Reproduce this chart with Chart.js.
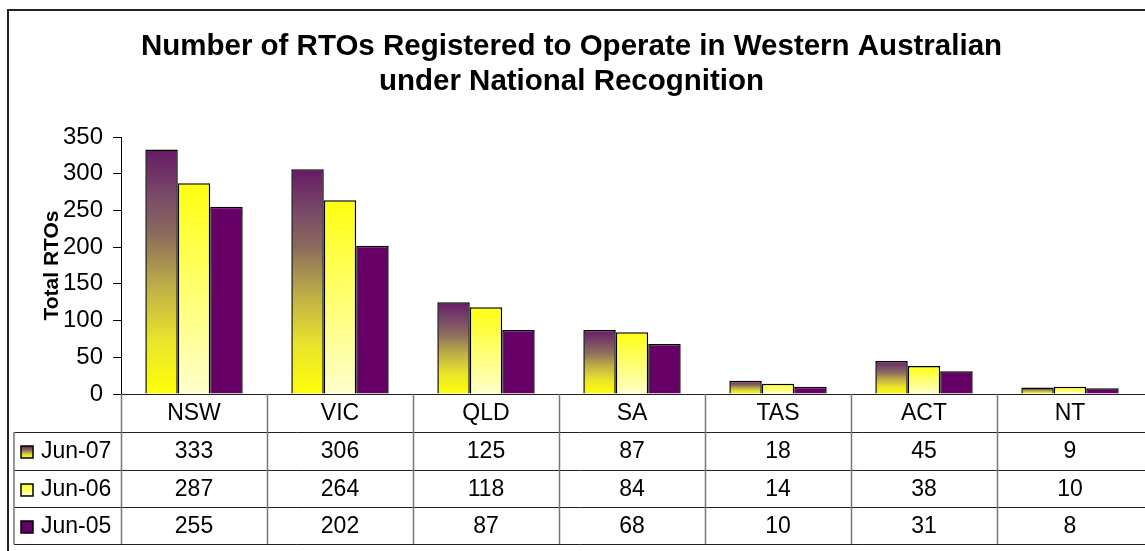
<!DOCTYPE html>
<html>
<head>
<meta charset="utf-8">
<script src="https://cdn.jsdelivr.net/npm/chart.js@4"></script>
<style>
  body { margin: 0; background: #fff; }
  canvas { display: block; }
</style>
</head>
<body>
<canvas id="myChart" width="1145" height="551"></canvas>
<script>
// data
var categories = ['NSW', 'VIC', 'QLD', 'SA', 'TAS', 'ACT', 'NT'];
var seriesNames = ['Jun-07', 'Jun-06', 'Jun-05'];
var jun07 = [333, 306, 125, 87, 18, 45, 9];
var jun06 = [287, 264, 118, 84, 14, 38, 10];
var jun05 = [255, 202, 87, 68, 10, 31, 8];
var yMin = 0, yMax = 350, yStep = 50;

var FONT = "'Liberation Sans', Arial, sans-serif";

// colour stops, top of bar first
var seriesFills = [
    [[0, '#661a66'], [0.18, '#784868'], [0.35, '#8c6c5c'], [0.55, '#bcac48'], [0.78, '#eae42c'], [1, '#ffff08']],
    [[0, '#ffff10'], [1, '#ffffcc']],
    [[0, '#660066'], [1, '#660066']]
];
var seriesData = [jun07, jun06, jun05];

function fillStops(g, stops) {
    stops.forEach(function (st) { g.addColorStop(st[0], st[1]); });
    return g;
}

// vertical gradient per bar, from the bar top down to zero
function barGradient(stops) {
    return function (context) {
        var chart = context.chart;
        var ys = chart.scales.y;
        if (!ys || context.parsed === undefined || context.parsed.y === undefined) return stops[0][1];
        var y0 = ys.getPixelForValue(context.parsed.y);
        var y1 = ys.getPixelForValue(0);
        if (!isFinite(y0) || !isFinite(y1) || y0 === y1) return stops[0][1];
        return fillStops(chart.ctx.createLinearGradient(0, y0, 0, y1), stops);
    };
}

// data table under the plot, laid out from the x scale
var dataTable = {
    id: 'dataTable',
    afterDraw: function (chart) {
        var ctx = chart.ctx;
        var xs = chart.scales.x;
        var area = chart.chartArea;
        var n = categories.length;
        var catW = (xs.right - xs.left) / n;
        var rows = [area.bottom, 432, 470, 507, 544];
        var legendLeft = 14;

        ctx.save();
        // horizontal lines
        ctx.strokeStyle = '#222';
        ctx.lineWidth = 1;
        ctx.beginPath();
        ctx.moveTo(area.left, rows[0] + 0.5);
        ctx.lineTo(chart.width, rows[0] + 0.5);
        for (var r = 1; r < rows.length; r++) {
            ctx.moveTo(legendLeft, rows[r] + 0.5);
            ctx.lineTo(chart.width, rows[r] + 0.5);
        }
        ctx.stroke();

        // vertical lines
        ctx.strokeStyle = '#777';
        ctx.lineWidth = 1.5;
        ctx.beginPath();
        ctx.moveTo(legendLeft, rows[1]);
        ctx.lineTo(legendLeft, rows[4]);
        for (var i = 0; i < n; i++) {
            var xl = Math.round(xs.getPixelForValue(i) - catW / 2) + 0.5;
            ctx.moveTo(xl, rows[0]);
            ctx.lineTo(xl, rows[4]);
        }
        ctx.stroke();

        // header and values
        ctx.fillStyle = '#000';
        ctx.font = '23px ' + FONT;
        ctx.textAlign = 'center';
        ctx.textBaseline = 'middle';
        for (var i = 0; i < n; i++) {
            var cx = xs.getPixelForValue(i);
            ctx.fillText(categories[i], cx, (rows[0] + rows[1]) / 2 + 1);
            for (var s = 0; s < seriesData.length; s++) {
                ctx.fillText(String(seriesData[s][i]), cx, (rows[s + 1] + rows[s + 2]) / 2 + 1);
            }
        }

        // legend keys and names
        ctx.textAlign = 'left';
        for (var s = 0; s < seriesNames.length; s++) {
            var cy = (rows[s + 1] + rows[s + 2]) / 2;
            var kx = 21, ky = Math.round(cy - 5), k = 12;
            ctx.fillStyle = fillStops(ctx.createLinearGradient(0, ky, 0, ky + k), seriesFills[s]);
            ctx.fillRect(kx, ky, k, k);
            ctx.strokeStyle = '#000';
            ctx.lineWidth = 1.5;
            ctx.strokeRect(kx, ky, k, k);
            ctx.fillStyle = '#000';
            ctx.fillText(seriesNames[s], 41, cy + 1);
        }

        // outer chart border
        ctx.strokeStyle = '#222';
        ctx.lineWidth = 2;
        ctx.strokeRect(8, 10, chart.width + 10, chart.height + 10);
        ctx.restore();
    }
};

const ctx = document.getElementById('myChart');

new Chart(ctx, {
    type: 'bar',
    data: {
        labels: categories,
        datasets: seriesNames.map(function (name, s) {
            return {
                label: name,
                data: seriesData[s],
                backgroundColor: barGradient(seriesFills[s]),
                borderColor: '#000',
                borderWidth: 1.5,
                categoryPercentage: 0.667,
                barPercentage: 1
            };
        })
    },
    options: {
        responsive: false,
        animation: false,
        layout: {
            padding: { left: 0, right: 2, top: 0, bottom: 157 }
        },
        plugins: {
            legend: { display: false },
            tooltip: { enabled: false },
            title: {
                display: true,
                text: ['Number of RTOs Registered to Operate in Western Australian', 'under National Recognition'],
                color: '#000',
                font: { family: FONT, size: 29.5, weight: 'bold', lineHeight: 1.17 },
                padding: { top: 30, bottom: 38 }
            }
        },
        scales: {
            x: {
                display: false
            },
            y: {
                min: yMin,
                max: yMax,
                afterFit: function (scale) { scale.width = 121; },
                ticks: {
                    stepSize: yStep,
                    color: '#000',
                    padding: 10,
                    font: { family: FONT, size: 24 }
                },
                grid: {
                    drawOnChartArea: false,
                    drawTicks: true,
                    tickLength: 8,
                    color: '#000'
                },
                border: { display: true, color: '#000', width: 1 },
                title: {
                    display: true,
                    text: 'Total RTOs',
                    color: '#000',
                    font: { family: FONT, size: 21, weight: 'bold', lineHeight: 1.2 },
                    padding: { top: 40, bottom: 0 }
                }
            }
        }
    },
    plugins: [dataTable]
});
</script>
</body>
</html>
